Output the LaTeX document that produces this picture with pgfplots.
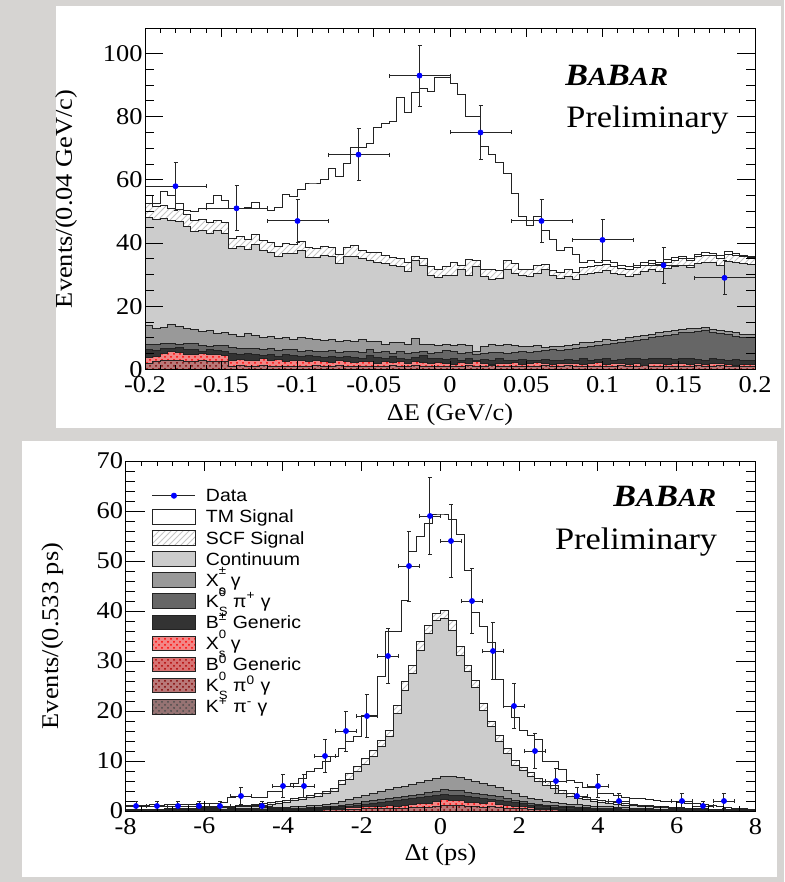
\documentclass[border=0pt]{standalone}
\usepackage{fontspec}
\setmainfont{Liberation Serif}[FakeStretch=1.1]
\setsansfont{Liberation Sans}[FakeStretch=1.1]
\usepackage{pgfplots}
\pgfplotsset{compat=1.18}
\usepackage{pgfplotstable}
\usetikzlibrary{patterns}

\definecolor{marble}{RGB}{214,212,210}
\definecolor{cont}{RGB}{204,204,204}
\definecolor{xsc}{RGB}{153,153,153}
\definecolor{kspi}{RGB}{102,102,102}
\definecolor{bgen}{RGB}{51,51,51}
\definecolor{xsn}{RGB}{242,135,135}
\definecolor{bn}{RGB}{215,115,115}
\definecolor{kspin}{RGB}{185,120,120}
\definecolor{kpi}{RGB}{150,115,115}
\definecolor{histline}{RGB}{35,35,35}

\newcommand{\supsub}[2]{\makebox[0pt][l]{\raisebox{0.64em}{\fontsize{6}{6}\selectfont #1}}\raisebox{-0.45em}{\fontsize{6}{6}\selectfont #2}}
\newcommand{\babar}{{\bfseries\itshape\fontsize{15.5}{15.5}\selectfont B{\fontsize{13}{13}\selectfont A}B{\fontsize{13}{13}\selectfont AR}}}

\pgfplotstableread{
x T S C Xp Kp Bc Ra Rb
-0.200 55.2 52.6 48.2 13.8 7.8 6.4 3.8 2.0
-0.195 52.6 51.5 47.6 13.0 7.9 6.0 4.2 2.4
-0.190 56.3 52.0 47.8 13.2 8.2 6.6 5.2 2.8
-0.185 55.2 51.0 47.3 14.2 8.3 6.8 5.6 3.0
-0.180 52.6 50.5 46.8 13.6 8.0 7.0 5.4 3.0
-0.175 50.3 49.0 45.4 13.0 8.3 6.4 4.8 2.6
-0.170 50.0 47.2 43.6 12.8 8.1 6.2 4.6 2.4
-0.165 51.0 47.5 43.9 12.0 7.6 5.8 5.2 2.8
-0.160 52.6 46.5 43.1 12.5 7.2 6.2 4.6 2.4
-0.155 55.2 47.2 43.9 11.4 7.6 5.9 4.8 2.6
-0.150 53.6 46.5 43.1 11.8 7.5 5.6 4.4 2.4
-0.145 51.0 41.5 38.2 11.0 6.9 5.0 3.0 1.0
-0.140 50.8 42.0 38.9 10.5 6.5 4.6 3.2 1.2
-0.135 51.4 41.2 38.0 11.5 6.7 5.2 2.8 0.8
-0.130 52.8 42.6 39.4 10.8 6.8 4.8 3.0 1.1
-0.125 51.0 40.8 37.8 10.0 6.3 4.4 3.4 1.2
-0.120 50.2 40.2 37.0 10.6 6.6 4.8 2.8 0.9
-0.115 51.2 39.0 35.9 9.8 6.0 4.2 3.2 1.0
-0.110 55.4 39.8 36.8 10.0 6.4 4.6 2.6 0.8
-0.105 54.7 39.6 36.8 9.5 6.2 4.4 2.8 1.1
-0.100 57.0 40.6 37.6 10.2 5.8 4.0 3.0 0.9
-0.095 58.7 38.5 35.5 9.8 6.0 4.4 2.4 1.0
-0.090 58.7 38.2 35.5 9.4 5.7 4.2 2.8 1.2
-0.085 60.2 39.0 36.2 9.2 5.8 3.8 2.6 0.8
-0.080 63.6 38.7 35.9 9.6 6.0 4.2 2.2 1.1
-0.075 61.0 36.5 33.6 9.0 5.4 3.8 2.8 1.2
-0.070 65.2 38.7 35.9 9.2 5.6 4.0 2.4 0.9
-0.065 70.3 39.1 35.9 9.0 5.7 3.8 2.2 1.0
-0.060 70.3 37.8 35.2 9.4 5.5 3.6 2.6 0.8
-0.055 71.6 37.0 34.6 8.8 6.2 4.4 2.4 1.1
-0.050 76.5 37.0 33.8 8.9 5.4 3.8 2.0 0.9
-0.045 77.9 36.2 33.6 7.9 5.8 3.4 2.4 1.0
-0.040 78.6 35.5 33.0 8.6 5.2 4.0 2.2 1.2
-0.035 86.0 35.2 32.5 8.4 5.6 3.6 2.6 0.8
-0.030 81.3 33.8 31.0 8.0 5.0 3.2 2.0 1.1
-0.025 87.8 35.7 34.6 9.8 5.5 3.8 2.4 1.2
-0.020 89.0 35.2 33.0 8.0 5.8 4.4 2.2 0.9
-0.015 88.0 32.5 29.9 7.8 5.1 3.4 1.8 1.0
-0.010 92.5 31.7 29.2 7.6 5.4 3.6 2.2 0.8
-0.005 92.5 32.5 29.9 7.8 5.9 3.2 2.0 1.1
0.000 90.5 33.8 29.6 7.6 5.6 3.6 1.6 0.9
0.005 87.0 32.8 31.5 8.0 5.0 3.0 2.2 1.0
0.010 80.0 34.7 29.6 7.6 5.4 3.4 1.8 1.2
0.015 80.0 34.6 32.5 5.6 4.8 2.8 2.4 0.8
0.020 70.5 31.7 29.4 7.4 5.2 3.2 1.8 1.1
0.025 68.0 31.5 28.4 7.8 5.5 3.0 1.6 1.2
0.030 65.5 31.2 28.8 7.6 5.4 3.4 2.0 0.9
0.035 62.0 34.6 31.5 8.0 5.0 2.8 1.8 1.0
0.040 55.7 33.6 30.5 7.6 5.4 3.0 2.2 0.8
0.045 48.4 31.7 29.6 7.2 5.8 3.2 1.6 1.1
0.050 45.7 31.7 29.4 7.4 5.4 2.8 2.0 0.9
0.055 48.4 33.0 30.5 7.6 5.6 3.0 2.2 1.0
0.060 44.0 33.3 31.5 7.0 6.0 3.2 1.8 1.2
0.065 41.0 31.3 29.6 7.2 6.2 2.8 1.6 0.8
0.070 37.8 30.6 28.8 7.4 6.0 3.0 2.0 1.1
0.075 38.5 31.5 29.5 7.6 6.4 3.2 1.8 1.2
0.080 36.5 30.8 28.6 8.0 6.8 3.0 2.0 0.9
0.085 34.0 32.2 30.0 8.4 7.0 3.4 1.6 1.0
0.090 34.6 32.6 30.5 8.6 7.4 3.0 1.8 0.8
0.095 34.0 33.0 30.8 9.0 7.6 3.2 2.2 1.1
0.100 34.5 33.2 31.2 9.4 7.8 3.4 1.6 0.9
0.105 34.0 32.6 30.5 9.2 8.2 3.0 1.8 1.0
0.110 33.0 32.0 30.0 9.6 8.6 3.2 2.0 1.2
0.115 32.6 31.6 29.5 10.0 8.8 3.4 1.6 0.8
0.120 33.0 32.2 30.2 10.4 9.2 3.6 1.8 1.1
0.125 34.0 33.0 31.0 10.8 9.6 3.2 1.4 1.2
0.130 34.4 33.6 31.5 11.2 10.0 3.4 1.8 0.9
0.135 34.0 33.2 31.0 11.6 10.4 3.6 2.0 1.0
0.140 34.8 34.0 32.0 12.0 10.8 3.4 1.6 0.8
0.145 35.5 34.6 32.5 12.4 11.2 3.2 1.8 1.1
0.150 35.8 35.0 33.0 12.8 11.6 3.6 2.0 0.9
0.155 35.2 34.4 32.2 13.0 11.8 3.4 1.6 1.0
0.160 36.4 35.6 33.5 12.9 12.0 3.2 1.8 1.2
0.165 37.0 36.2 34.0 13.2 12.2 3.0 1.6 0.8
0.170 36.8 36.0 33.8 12.8 11.8 3.4 2.0 1.1
0.175 36.2 35.2 33.0 12.4 11.4 3.2 1.8 1.2
0.180 37.2 36.4 34.2 12.0 11.0 3.0 1.6 0.9
0.185 36.8 36.0 33.8 11.6 10.6 3.2 1.4 1.0
0.190 36.2 35.6 33.5 11.2 10.2 3.0 1.6 0.8
0.195 35.8 35.4 33.2 11.0 10.0 2.8 1.6 1.1
0.200 35.8 35.4 33.2 11.0 10.0 2.8 1.6 1.1
}\toptab

\pgfplotstableread{
x T S C Xp Kp Bc Ra Rb
-8.0 1.2 0.3 0.2 0.1 0.1 0.1 0.0 0.0
-7.8 1.2 0.3 0.2 0.1 0.1 0.1 0.0 0.0
-7.6 1.2 0.4 0.3 0.1 0.1 0.1 0.0 0.0
-7.4 1.3 0.4 0.3 0.2 0.1 0.1 0.0 0.0
-7.2 1.2 0.4 0.3 0.2 0.1 0.1 0.0 0.0
-7.0 1.3 0.5 0.4 0.2 0.1 0.1 0.0 0.0
-6.8 1.3 0.5 0.4 0.2 0.1 0.1 0.1 0.05
-6.6 1.4 0.6 0.4 0.3 0.2 0.1 0.1 0.05
-6.4 1.3 0.6 0.5 0.3 0.2 0.1 0.1 0.05
-6.2 1.5 0.7 0.5 0.3 0.2 0.1 0.1 0.05
-6.0 1.6 0.8 0.6 0.3 0.2 0.1 0.1 0.05
-5.8 1.5 0.8 0.6 0.4 0.2 0.1 0.1 0.05
-5.6 1.8 0.9 0.7 0.4 0.3 0.2 0.1 0.05
-5.4 2.8 1.0 0.8 0.5 0.3 0.2 0.1 0.05
-5.2 3.0 1.1 0.9 0.5 0.3 0.2 0.1 0.05
-5.0 2.9 1.2 1.0 0.6 0.3 0.2 0.2 0.1
-4.8 2.7 1.4 1.1 0.6 0.4 0.3 0.2 0.1
-4.6 2.8 1.5 1.2 0.7 0.4 0.3 0.2 0.1
-4.4 3.9 1.7 1.4 0.7 0.5 0.3 0.2 0.1
-4.2 3.9 1.9 1.6 0.8 0.5 0.4 0.3 0.15
-4.0 4.9 2.1 1.8 0.8 0.5 0.4 0.3 0.15
-3.8 5.5 2.5 2.1 0.9 0.6 0.4 0.3 0.15
-3.6 6.5 2.8 2.4 1.0 0.6 0.5 0.4 0.2
-3.4 8.0 3.1 2.7 1.1 0.7 0.5 0.4 0.2
-3.2 8.5 3.5 3.0 1.2 0.8 0.6 0.4 0.2
-3.0 10.0 4.0 3.5 1.4 0.9 0.7 0.5 0.25
-2.8 11.0 4.5 4.0 1.6 1.0 0.8 0.5 0.25
-2.6 12.5 6.2 5.4 2.0 1.2 0.9 0.6 0.3
-2.4 14.0 7.5 6.3 2.4 1.4 1.0 0.7 0.35
-2.2 15.0 8.9 7.9 2.8 1.6 1.2 0.8 0.4
-2.0 19.2 10.5 9.4 3.2 1.9 1.4 0.9 0.45
-1.8 19.2 12.2 10.9 3.6 2.1 1.6 0.9 0.45
-1.6 26.9 14.2 12.9 4.0 2.4 1.8 1.0 0.5
-1.4 35.9 16.2 14.9 4.4 2.6 2.0 1.1 0.55
-1.2 35.9 21.2 19.5 4.7 2.8 2.1 1.0 0.5
-1.0 42.2 25.9 24.2 5.0 3.0 2.3 1.2 0.6
-0.8 51.9 29.2 27.5 5.3 3.2 2.5 1.3 0.65
-0.6 55.0 33.9 32.2 5.7 3.4 2.7 1.5 0.75
-0.4 57.5 37.2 35.5 6.1 3.7 2.9 1.6 0.8
-0.2 59.4 39.5 38.2 6.6 4.0 3.1 2.0 1.0
0.0 59.4 40.2 38.5 7.0 4.3 3.3 2.3 1.15
0.2 58.3 38.2 36.2 7.0 4.2 3.2 2.2 1.1
0.4 55.3 32.9 31.2 6.8 4.1 3.1 2.1 1.05
0.6 48.1 29.2 27.9 6.3 3.8 2.9 1.8 0.9
0.8 39.7 26.2 24.8 5.9 3.6 2.7 1.7 0.85
1.0 37.0 21.5 20.2 5.5 3.4 2.6 1.6 0.8
1.2 33.7 17.9 16.9 5.2 3.2 2.4 1.9 0.95
1.4 26.3 15.2 13.9 4.8 2.9 2.2 1.4 0.7
1.6 21.0 12.5 11.5 4.2 2.6 2.0 1.2 0.6
1.8 18.7 10.2 9.2 3.6 2.2 1.7 1.0 0.5
2.0 16.2 8.7 8.1 3.0 1.9 1.5 0.9 0.45
2.2 15.2 7.7 6.9 2.6 1.6 1.2 0.7 0.35
2.4 14.3 6.5 5.9 2.3 1.4 1.1 0.6 0.3
2.6 9.9 5.9 5.2 2.0 1.2 0.9 0.5 0.25
2.8 9.9 5.2 4.5 1.8 1.1 0.8 0.5 0.25
3.0 8.3 4.2 3.5 1.6 1.0 0.8 0.4 0.2
3.2 6.2 3.5 3.0 1.4 0.9 0.7 0.4 0.2
3.4 5.8 3.0 2.6 1.3 0.8 0.6 0.3 0.15
3.6 4.7 2.7 2.3 1.1 0.7 0.5 0.3 0.15
3.8 4.7 2.4 2.0 1.0 0.6 0.5 0.3 0.15
4.0 3.5 2.1 1.8 1.0 0.6 0.4 0.2 0.1
4.2 3.5 1.9 1.6 0.9 0.5 0.4 0.2 0.1
4.4 3.2 1.7 1.4 0.8 0.5 0.4 0.2 0.1
4.6 2.8 1.5 1.2 0.7 0.4 0.3 0.2 0.1
4.8 2.6 1.4 1.1 0.6 0.4 0.3 0.1 0.05
5.0 2.5 1.2 1.0 0.5 0.3 0.2 0.1 0.05
5.2 2.4 1.1 0.9 0.5 0.3 0.2 0.1 0.05
5.4 2.2 1.0 0.8 0.4 0.3 0.2 0.1 0.05
5.6 2.0 0.9 0.7 0.4 0.2 0.1 0.1 0.05
5.8 1.9 0.8 0.6 0.3 0.2 0.1 0.0 0.0
6.0 1.7 0.7 0.5 0.3 0.2 0.1 0.0 0.0
6.2 1.6 0.6 0.5 0.3 0.2 0.1 0.0 0.0
6.4 1.5 0.5 0.4 0.2 0.1 0.1 0.0 0.0
6.6 1.3 0.5 0.4 0.2 0.1 0.1 0.0 0.0
6.8 1.2 0.4 0.3 0.2 0.1 0.1 0.0 0.0
7.0 1.0 0.4 0.3 0.1 0.1 0.1 0.0 0.0
7.2 0.8 0.3 0.2 0.1 0.1 0.1 0.0 0.0
7.4 0.6 0.3 0.2 0.1 0.1 0.1 0.0 0.0
7.6 0.5 0.3 0.2 0.1 0.1 0.1 0.0 0.0
7.8 0.4 0.2 0.1 0.1 0.1 0.1 0.0 0.0
8.0 0.4 0.2 0.1 0.1 0.1 0.1 0.0 0.0
}\bottab

\pgfplotsset{
  hstep/.style={const plot mark left, draw=histline, line width=0.5pt, forget plot},
  dataplot/.style={only marks, forget plot, mark=*, mark size=1.25pt, blue,
    mark options={draw=blue, fill=blue},
    error bars/x dir=both, error bars/x explicit,
    error bars/y dir=both, error bars/y explicit,
    error bars/error bar style={black!85, line width=0.5pt},
    error bars/error mark options={rotate=90, mark size=1pt, black!85, line width=0.5pt}},
  babaraxis/.style={scale only axis, axis on top, tick align=inside,
    axis line style={line width=0.5pt},
    every tick/.style={black, line width=0.5pt},
    ticklabel style={font=\fontsize{12}{12}\selectfont},
    label style={font=\fontsize{12}{12}\selectfont},
    /pgf/number format/assume math mode=true,
    yticklabel style={xshift=2.3pt},
    scaled ticks=false},
}
\tikzset{lgbox/.style={draw=histline, line width=0.5pt}}

\begin{document}
\begin{tikzpicture}
\path[use as bounding box] (0,0) rectangle (392pt,-441pt);
\fill[marble] (0,0) rectangle (392pt,-441pt);
\fill[white] (28pt,-3pt) rectangle (390.5pt,-214pt);
\fill[white] (11pt,-220.5pt) rectangle (388.5pt,-438.5pt);

\begin{axis}[babaraxis,
  at={(72.5pt,-184.75pt)}, anchor=south west,
  width=305pt, height=170.65pt,
  xmin=-0.2, xmax=0.2, ymin=0, ymax=108,
  xtick={-0.2,-0.15,-0.1,-0.05,0,0.05,0.1,0.15,0.2},
  xticklabels={-0.2,-0.15,-0.1,-0.05,0,0.05,0.1,0.15,0.2},
  ytick={0,20,40,60,80,100},
  minor x tick num=4, minor y tick num=3,
  xtick style={/pgfplots/major tick length=4.5pt,/pgfplots/minor tick length=2.2pt},
  ytick style={/pgfplots/major tick length=9pt,/pgfplots/minor tick length=4.5pt},
  xlabel={ΔE (GeV/c)}, ylabel={Events/(0.04 GeV/c)},
  xlabel style={at={(axis description cs:0.5,-0.150)}, anchor=base},
  ylabel style={at={(axis description cs:-0.1197,0.5)}, anchor=base},
]
\addplot[hstep, fill=white] table[x=x,y=T] {\toptab} \closedcycle;
\addplot[hstep, fill=white, postaction={pattern=north east lines, pattern color=gray!45}] table[x=x,y=S] {\toptab} \closedcycle;
\addplot[hstep, fill=cont] table[x=x,y=C] {\toptab} \closedcycle;
\addplot[hstep, fill=xsc] table[x=x,y=Xp] {\toptab} \closedcycle;
\addplot[hstep, fill=kspi] table[x=x,y=Kp] {\toptab} \closedcycle;
\addplot[hstep, fill=bgen] table[x=x,y=Bc] {\toptab} \closedcycle;
\addplot[hstep, fill=xsn, postaction={pattern=crosshatch dots, pattern color=red}] table[x=x,y=Ra] {\toptab} \closedcycle;
\addplot[hstep, fill=kspin, postaction={pattern=crosshatch dots, pattern color=red!50!black}] table[x=x,y=Rb] {\toptab} \closedcycle;
\addplot[dataplot] coordinates {
(-0.18,58) +- (0.02,7.62)
(-0.14,51) +- (0.02,7.14)
(-0.10,47) +- (0.02,6.86)
(-0.06,68) +- (0.02,8.25)
(-0.02,93) +- (0.02,9.64)
(0.02,75) +- (0.02,8.66)
(0.06,47) +- (0.02,6.86)
(0.10,41) +- (0.02,6.40)
(0.14,33) +- (0.02,5.74)
(0.18,29) +- (0.02,5.39)
};
\end{axis}

\begin{axis}[babaraxis,
  at={(62.75pt,-405.5pt)}, anchor=south west,
  width=315pt, height=175pt,
  xmin=-8, xmax=8, ymin=0, ymax=70,
  xtick={-8,-6,...,8}, ytick={0,10,...,70},
  minor x tick num=4, minor y tick num=4,
  xtick style={/pgfplots/major tick length=5pt,/pgfplots/minor tick length=2.5pt},
  ytick style={/pgfplots/major tick length=9.5pt,/pgfplots/minor tick length=4.7pt},
  xlabel={Δt (ps)}, ylabel={Events/(0.533 ps)},
  xlabel style={at={(axis description cs:0.5,-0.140)}, anchor=base},
  ylabel style={at={(axis description cs:-0.107,0.5)}, anchor=base},
  legend style={at={(axis description cs:0.042,0.931)}, anchor=north west,
    draw=none, fill=none, inner sep=0pt, outer sep=0pt, row sep=0pt, column sep=5pt,
    font=\sffamily\fontsize{8.85}{10}\selectfont,
    nodes={inner sep=0pt, text height=8.35pt, text depth=2.2pt}},
  legend cell align=left,
]
\addplot[hstep, fill=white] table[x=x,y=T] {\bottab} \closedcycle;
\addplot[hstep, fill=white, postaction={pattern=north east lines, pattern color=gray!45}] table[x=x,y=S] {\bottab} \closedcycle;
\addplot[hstep, fill=cont] table[x=x,y=C] {\bottab} \closedcycle;
\addplot[hstep, fill=xsc] table[x=x,y=Xp] {\bottab} \closedcycle;
\addplot[hstep, fill=kspi] table[x=x,y=Kp] {\bottab} \closedcycle;
\addplot[hstep, fill=bgen] table[x=x,y=Bc] {\bottab} \closedcycle;
\addplot[hstep, fill=xsn, postaction={pattern=crosshatch dots, pattern color=red}] table[x=x,y=Ra] {\bottab} \closedcycle;
\addplot[hstep, fill=kspin, postaction={pattern=crosshatch dots, pattern color=red!50!black}] table[x=x,y=Rb] {\bottab} \closedcycle;
\addplot[dataplot] coordinates {
(-7.733,1) +- (0.2667,1)
(-7.2,1) +- (0.2667,1)
(-6.667,1) +- (0.2667,1)
(-6.133,1) +- (0.2667,1)
(-5.6,1) +- (0.2667,1)
(-5.067,3) +- (0.2667,1.73)
(-4.533,1) +- (0.2667,1)
(-4.0,5) +- (0.2667,2.24)
(-3.467,5) +- (0.2667,2.24)
(-2.933,11) +- (0.2667,3.32)
(-2.4,16) +- (0.2667,4)
(-1.867,19) +- (0.2667,4.36)
(-1.333,31) +- (0.2667,5.57)
(-0.8,49) +- (0.2667,7)
(-0.267,59) +- (0.2667,7.68)
(0.267,54) +- (0.2667,7.35)
(0.8,42) +- (0.2667,6.48)
(1.333,32) +- (0.2667,5.66)
(1.867,21) +- (0.2667,4.58)
(2.4,12) +- (0.2667,3.46)
(2.933,6) +- (0.2667,2.45)
(3.467,3) +- (0.2667,1.73)
(4.0,5) +- (0.2667,2.24)
(4.533,2) +- (0.2667,1.41)
(6.133,2) +- (0.2667,1.41)
(6.667,1) +- (0.2667,1)
(7.2,2) +- (0.2667,1.41)
};
\addlegendimage{legend image code/.code={\draw[black!85,line width=0.5pt] (0pt,0pt) -- (21.5pt,0pt); \fill[blue] (10.75pt,0pt) circle (1.3pt);}}
\addlegendentry{Data}
\addlegendimage{legend image code/.code={\draw[lgbox,fill=white] (0pt,-3.65pt) rectangle (21.5pt,3.65pt);}}
\addlegendentry{TM Signal}
\addlegendimage{legend image code/.code={\draw[lgbox,fill=white,postaction={pattern=north east lines, pattern color=gray!45}] (0pt,-3.65pt) rectangle (21.5pt,3.65pt);}}
\addlegendentry{SCF Signal}
\addlegendimage{legend image code/.code={\draw[lgbox,fill=cont] (0pt,-3.65pt) rectangle (21.5pt,3.65pt);}}
\addlegendentry{Continuum}
\addlegendimage{legend image code/.code={\draw[lgbox,fill=xsc] (0pt,-3.65pt) rectangle (21.5pt,3.65pt);}}
\addlegendentry{X\supsub{±}{s} γ}
\addlegendimage{legend image code/.code={\draw[lgbox,fill=kspi] (0pt,-3.65pt) rectangle (21.5pt,3.65pt);}}
\addlegendentry{K\supsub{0}{S} π\textsuperscript{+} γ}
\addlegendimage{legend image code/.code={\draw[lgbox,fill=bgen] (0pt,-3.65pt) rectangle (21.5pt,3.65pt);}}
\addlegendentry{B\textsuperscript{±} Generic}
\addlegendimage{legend image code/.code={\draw[lgbox,fill=xsn,postaction={pattern=crosshatch dots, pattern color=red}] (0pt,-3.65pt) rectangle (21.5pt,3.65pt);}}
\addlegendentry{X\supsub{0}{s} γ}
\addlegendimage{legend image code/.code={\draw[lgbox,fill=bn,postaction={pattern=crosshatch dots, pattern color=red!70!black}] (0pt,-3.65pt) rectangle (21.5pt,3.65pt);}}
\addlegendentry{B\textsuperscript{0} Generic}
\addlegendimage{legend image code/.code={\draw[lgbox,fill=kspin,postaction={pattern=crosshatch dots, pattern color=red!50!black}] (0pt,-3.65pt) rectangle (21.5pt,3.65pt);}}
\addlegendentry{K\supsub{0}{S} π\textsuperscript{0} γ}
\addlegendimage{legend image code/.code={\draw[lgbox,fill=kpi,postaction={pattern=crosshatch dots, pattern color=black!70}] (0pt,-3.65pt) rectangle (21.5pt,3.65pt);}}
\addlegendentry{K\textsuperscript{+} π\textsuperscript{-} γ}
\end{axis}

\node[anchor=base west, inner sep=0pt] at (282.5pt,-43pt) {\babar};
\node[anchor=base west, inner sep=0pt, font=\fontsize{15.6}{16}\selectfont] at (283pt,-63.9pt) {Preliminary};
\node[anchor=base east, inner sep=0pt] at (358.3pt,-253pt) {\babar};
\node[anchor=base east, inner sep=0pt, font=\fontsize{15.6}{16}\selectfont] at (358.75pt,-274.6pt) {Preliminary};
\end{tikzpicture}
\end{document}
